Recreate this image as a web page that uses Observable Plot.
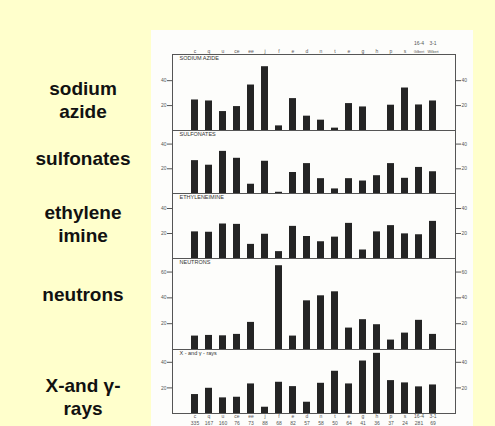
<!DOCTYPE html>
<html><head><meta charset="utf-8">
<script src="https://cdn.jsdelivr.net/npm/d3@7"></script>
<script src="https://cdn.jsdelivr.net/npm/@observablehq/plot@0.6"></script>
<style>
body{margin:0;background:#FFFFCC;}
#wrap{position:relative;width:495px;height:426px;overflow:hidden;background:#FFFFCC;font-family:"Liberation Sans",Arial,sans-serif;}
#paper{position:absolute;left:151px;top:30px;width:322px;height:400px;background:#fdfdfb;}
.lab{position:absolute;left:0;width:166px;text-align:center;font-weight:bold;font-size:19px;line-height:23px;color:#111;}
</style></head><body><div id="wrap"><div id="paper"></div></div>
<script>
// categories (loci) and tick labels
const loci = ["c","q","u","ce","ee","j","f","e","d","n","t","e","g","h","p","s","16-4","3-1"];
const topRowLabels = ["c","q","u","ce","ee","j","f","e","d","n","t","e","g","h","p","s","Gilbert","Wilbert"];
const alleles = ["335","167","160","76","73","88","68","82","57","58","50","64","41","36","37","24","281","69"];
const mutagenNames = ["SODIUM AZIDE","SULFONATES","ETHYLENEIMINE","NEUTRONS","X - and \u03b3 - rays"];
const sideLabels = [["sodium","azide"],["sulfonates"],["ethylene","imine"],["neutrons"],["X-and \u03b3-","rays"]];
// series values (% of mutants per locus)
const sodiumAzide   = [24.5,23.7,15.2,19.2,36.5,51.2,3.7,25.6,11.5,8.3,1.9,21.6,18.9,0,20.3,34.1,20.5,23.7];
const sulfonates    = [26.6,22.9,34.1,28.5,7.5,26.1,1,17,24.2,12,3.7,12,10.1,14.4,24.2,12.3,21.1,17.6];
const ethyleneimine = [21.3,21,27.6,27.3,11.3,19.4,5.5,25.7,17.6,13.4,17.1,28.1,6.8,21.3,26.3,19.7,19,29.7];
const neutrons      = [10.4,10.9,10.6,11.7,21,0,64.9,10.4,37.7,41.6,44.7,16.6,23.1,19.2,7.3,12.7,22.6,11.7];
const xGammaRays    = [14.8,19.7,12.2,12.7,23.1,4.9,24.4,21,8.8,23.6,33,23.1,41,47,25.7,23.9,20.8,22.3];
const yTickValues = [[20,40],[20,40],[20,40],[20,40,60],[20,40]];

const series = [sodiumAzide, sulfonates, ethyleneimine, neutrons, xGammaRays];
const bounds = [54,130,193,258,349,413];
const yMax = [61,51,52,70.5,50];
const wrap = document.getElementById("wrap");
const idx = d3.range(loci.length);

series.forEach((vals, p) => {
  const mt = p === 0 ? 30 : 4, mb = p === 4 ? 16 : 4;
  const ph = bounds[p+1] - bounds[p];
  const data = vals.map((v, i) => ({i, v}));
  const marks = [
    Plot.barY(data, {x: "i", y: "v", fill: "#242424"}),
    Plot.frame({stroke: "#555", strokeWidth: 1}),
    Plot.axisY({anchor: "left", ticks: yTickValues[p], tickSize: 5, tickPadding: 1, fontSize: 5, label: null}),
    Plot.axisY({anchor: "right", ticks: yTickValues[p], tickSize: 5, tickPadding: 1, fontSize: 5, label: null}),
    Plot.text([mutagenNames[p]], {text: d => d, frameAnchor: "top-left", dx: 7, dy: 2, fontSize: 5.5, fill: "#333", textAnchor: "start"})
  ];
  if (p === 0) {
    marks.push(
      Plot.axisX({anchor: "top", ticks: idx.slice(0, 16), tickSize: 0, tickPadding: 2, fontSize: 5, tickFormat: i => topRowLabels[i], label: null}),
      Plot.axisX({anchor: "top", ticks: [16, 17], tickSize: 0, tickPadding: 2, fontSize: 3.6, tickFormat: i => topRowLabels[i], label: null}),
      Plot.axisX({anchor: "top", ticks: [16, 17], tickSize: 0, tickPadding: 10, fontSize: 5, tickFormat: i => loci[i], label: null})
    );
  }
  if (p === 4) {
    marks.push(
      Plot.axisX({anchor: "bottom", tickSize: 0, tickPadding: 1, fontSize: 5, tickFormat: i => loci[i], label: null}),
      Plot.axisX({anchor: "bottom", tickSize: 0, tickPadding: 8, fontSize: 5, tickFormat: i => alleles[i], label: null})
    );
  }
  const svg = Plot.plot({
    width: 495, height: mt + ph + mb,
    marginLeft: 172, marginRight: 40, marginTop: mt, marginBottom: mb,
    x: {type: "band", domain: idx, paddingInner: 0.52, paddingOuter: 0.95, axis: null},
    y: {domain: [0, yMax[p]], axis: null},
    style: {background: "transparent", overflow: "visible", color: "#555", fontFamily: "Liberation Sans, Arial, sans-serif"},
    marks
  });
  svg.style.position = "absolute";
  svg.style.left = "0px";
  svg.style.top = (bounds[p] - mt) + "px";
  wrap.appendChild(svg);
});

const labelTops = [77, 147, 201, 283, 374];
sideLabels.forEach((lines, k) => {
  const div = document.createElement("div");
  div.className = "lab";
  div.style.top = labelTops[k] + "px";
  div.innerHTML = lines.join("<br>");
  wrap.appendChild(div);
});
</script></body></html>
